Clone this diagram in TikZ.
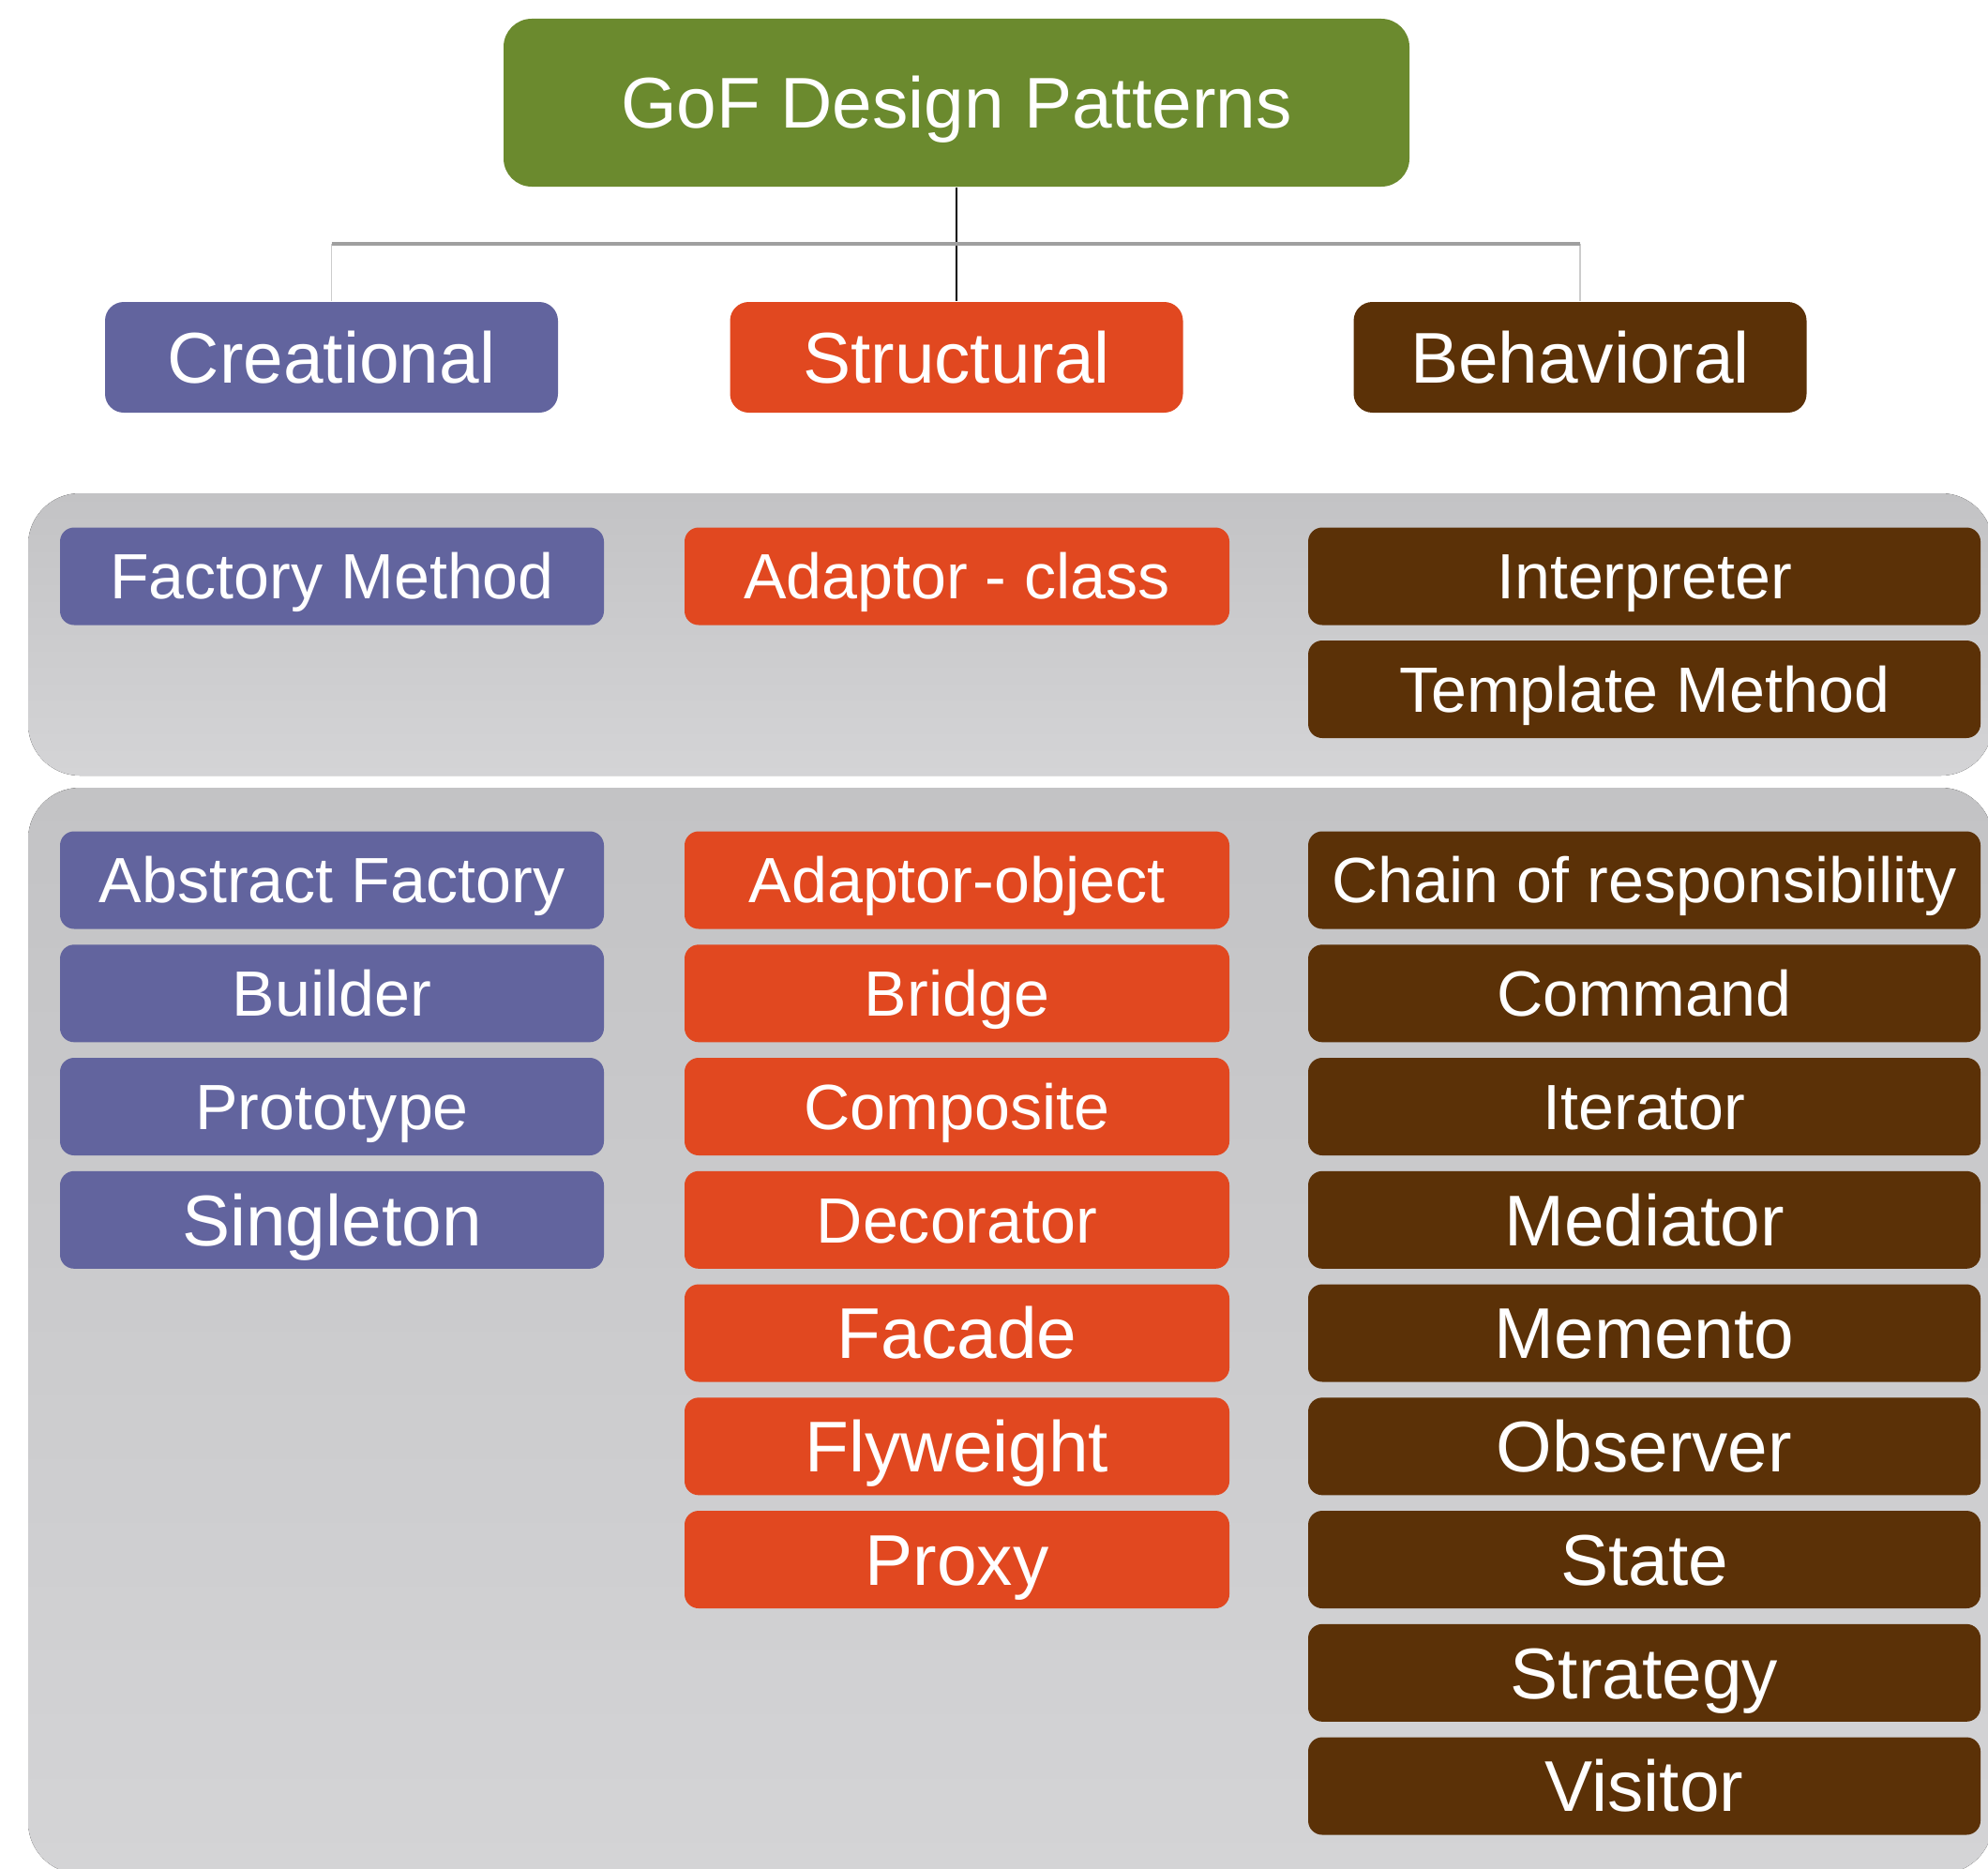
\documentclass[tikz,border=0pt]{standalone}
\usepackage{fontspec}
\setmainfont{Liberation Sans}
\usetikzlibrary{positioning}

\definecolor{gofgreen}{HTML}{6B8A2E}
\definecolor{crepurple}{HTML}{62649E}
\definecolor{strorange}{HTML}{E14820}
\definecolor{behbrown}{HTML}{5B3107}
\definecolor{paneltop}{HTML}{C3C3C5}
\definecolor{panelbot}{HTML}{D4D4D6}

\tikzset{
  box/.style={rounded corners=0.15cm, text=white, align=center, inner sep=0pt, text depth=0pt},
  group/.style={box, rounded corners=0.2cm, minimum width=4.83cm, minimum height=1.18cm, text height=15.6pt, font=\fontsize{21.8}{26}\selectfont},
  item/.style={box, minimum height=1.04cm, text height=13.9pt, font=\fontsize{19.4}{23}\selectfont},
  bigitem/.style={item, text height=15.6pt, font=\fontsize{21.8}{26}\selectfont},
  cre/.style={fill=crepurple, minimum width=5.80cm},
  str/.style={fill=strorange, minimum width=5.81cm},
  beh/.style={fill=behbrown, minimum width=7.17cm},
  panel/.style={rounded corners=0.55cm, top color=paneltop, bottom color=panelbot},
  mainlink/.style={black, line width=0.6pt},
  buslink/.style={gray!75, line width=0.9pt},
  sidelink/.style={gray!40, line width=0.4pt}
}

\begin{document}
\begin{tikzpicture}
\useasboundingbox (0,0) rectangle (21.2,-19.92);

% grey bands behind the pattern lists
\fill[panel] (0.30,-5.26) rectangle (21.25,-8.27);
\fill[panel] (0.30,-8.40) rectangle (21.25,-19.98);

% root and the three groups
\node[box,rounded corners=0.3cm,fill=gofgreen,minimum width=9.66cm,minimum height=1.79cm,text height=15.6pt,font=\fontsize{21.8}{26}\selectfont] (root) at (10.20,-1.095) {GoF Design Patterns};
\node[group,fill=crepurple] (cre) at (3.535,-3.81) {Creational};
\node[group,fill=strorange] (str) at (10.20,-3.81) {Structural};
\node[group,fill=behbrown] (beh) at (16.85,-3.81) {Behavioral};

\coordinate (bus) at (10.20,-2.60);
\draw[mainlink] (root.south) -- (str.north);
\draw[sidelink] (cre.north) -- (cre.north |- bus);
\draw[sidelink] (beh.north) -- (beh.north |- bus);
\draw[buslink] (cre.north |- bus) -- (beh.north |- bus);

% class scope
\node[item,cre] (factory) at (3.54,-6.145) {Factory Method};
\node[item,str] (adaptcls) at (10.205,-6.145) {Adaptor - class};
\node[item,beh] (interp) at (17.535,-6.145) {Interpreter};
\node[item,beh] (template) at (17.535,-7.35) {Template Method};

% object scope, creational
\node[item,cre] (abstract) at (3.54,-9.385) {Abstract Factory};
\node[item,cre] (builder) at (3.54,-10.593) {Builder};
\node[item,cre] (proto) at (3.54,-11.80) {Prototype};
\node[bigitem,cre] (single) at (3.54,-13.008) {Singleton};

% object scope, structural
\node[item,str] (adaptobj) at (10.205,-9.385) {Adaptor-object};
\node[item,str] (bridge) at (10.205,-10.593) {Bridge};
\node[item,str] (composite) at (10.205,-11.80) {Composite};
\node[item,str] (decorator) at (10.205,-13.008) {Decorator};
\node[bigitem,str] (facade) at (10.205,-14.215) {Facade};
\node[bigitem,str] (flyweight) at (10.205,-15.423) {Flyweight};
\node[bigitem,str] (proxy) at (10.205,-16.63) {Proxy};

% object scope, behavioral
\node[item,beh] (chain) at (17.535,-9.385) {Chain of responsibility};
\node[item,beh] (command) at (17.535,-10.593) {Command};
\node[item,beh] (iterator) at (17.535,-11.80) {Iterator};
\node[bigitem,beh] (mediator) at (17.535,-13.008) {Mediator};
\node[bigitem,beh] (memento) at (17.535,-14.215) {Memento};
\node[bigitem,beh] (observer) at (17.535,-15.423) {Observer};
\node[bigitem,beh] (state) at (17.535,-16.63) {State};
\node[bigitem,beh] (strategy) at (17.535,-17.838) {Strategy};
\node[bigitem,beh] (visitor) at (17.535,-19.045) {Visitor};
\end{tikzpicture}
\end{document}
